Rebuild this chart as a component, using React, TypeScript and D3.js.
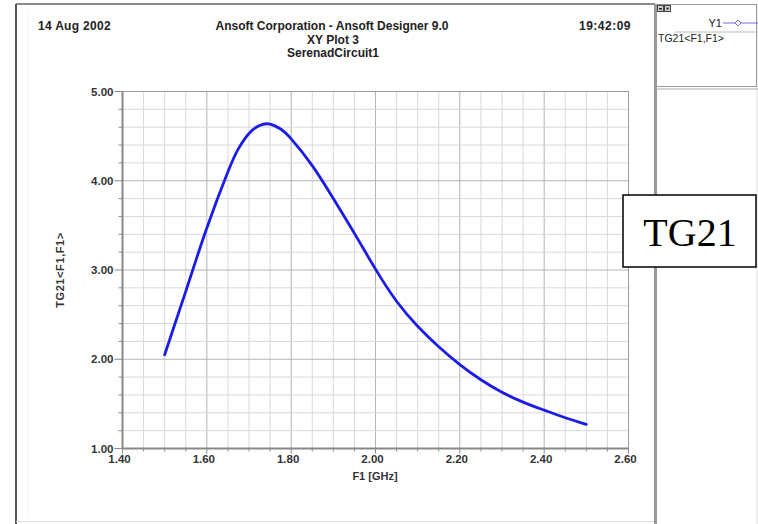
import React from "react";
import * as d3 from "d3";

const freqGHz = [1.5, 1.55, 1.6, 1.65, 1.675, 1.7, 1.725, 1.75, 1.775, 1.8, 1.85, 1.9, 1.95, 2.0, 2.05, 2.1, 2.15, 2.2, 2.25, 2.3, 2.35, 2.4, 2.45, 2.5];
const tg21 = [2.05, 2.76, 3.47, 4.1, 4.36, 4.53, 4.62, 4.635, 4.58, 4.47, 4.17, 3.8, 3.41, 3.01, 2.65, 2.37, 2.14, 1.94, 1.77, 1.63, 1.52, 1.43, 1.345, 1.27];
const xTickValues = [1.4, 1.6, 1.8, 2.0, 2.2, 2.4, 2.6];
const yTickValues = [1.0, 2.0, 3.0, 4.0, 5.0];
const headerLeft = "14 Aug 2002";
const headerTitle = ["Ansoft Corporation - Ansoft Designer 9.0", "XY Plot 3", "SerenadCircuit1"];
const headerRight = "19:42:09";
const xLabel = "F1 [GHz]";
const yLabel = "TG21<F1,F1>";
const legendName = "Y1";
const legendTrace = "TG21<F1,F1>";
const overlayText = "TG21";

export default function App() {
  const W = 758, H = 524;
  const x = d3.scaleLinear().domain([1.4, 2.6]).range([122.5, 628.5]);
  const y = d3.scaleLinear().domain([1, 5]).range([448.5, 91.5]);
  const xMinor = d3.range(0, 25).map((i) => 1.4 + i * 0.05);
  const yMinor = d3.range(0, 21).map((i) => 1 + i * 0.2);
  const pts = freqGHz.map((f, i) => [f, tg21[i]] as [number, number]);
  const line = d3
    .line<[number, number]>()
    .x((d) => x(d[0]))
    .y((d) => y(d[1]))
    .curve(d3.curveNatural);
  const fmt = d3.format(".2f");
  const font = "Arial, 'Liberation Sans', sans-serif";
  const isMajorX = (v: number) => xTickValues.some((t) => Math.abs(t - v) < 1e-6);
  const isMajorY = (v: number) => yTickValues.some((t) => Math.abs(t - v) < 1e-6);
  const [x0, x1] = x.range();
  const [y0, y1] = y.range();

  return (
    <svg width={W} height={H} style={{ position: "absolute", left: 0, top: 0, background: "#fff" }} fontFamily={font}>
      <rect x={0} y={0} width={W} height={H} fill="#fff" />
      {/* main window frame */}
      <line x1={16} y1={4} x2={655} y2={4} stroke="#666" strokeWidth={1.5} />
      <line x1={16} y1={4} x2={16} y2={524} stroke="#555" strokeWidth={2} />
      <line x1={28} y1={10} x2={28} y2={518} stroke="#f2f2f2" strokeWidth={1} />
      <line x1={16} y1={521.5} x2={655} y2={521.5} stroke="#ddd" strokeWidth={1} />
      <line x1={655.5} y1={4} x2={655.5} y2={524} stroke="#999" strokeWidth={3} />
      <line x1={757} y1={4} x2={757} y2={524} stroke="#ddd" strokeWidth={1} />

      {/* header */}
      <g fontWeight="bold" fontSize={12} fill="#222">
        <text x={38} y={30} letterSpacing={0.3}>{headerLeft}</text>
        <text x={332} y={30} textAnchor="middle">{headerTitle[0]}</text>
        <text x={333} y={44} textAnchor="middle">{headerTitle[1]}</text>
        <text x={333} y={57} textAnchor="middle">{headerTitle[2]}</text>
        <text x={631} y={30} textAnchor="end" letterSpacing={0.5}>{headerRight}</text>
      </g>

      {/* grid */}
      {xMinor.map((v, i) => (
        <line key={"gx" + i} x1={x(v)} x2={x(v)} y1={y1} y2={y0} stroke={isMajorX(v) ? "#b4b4b4" : "#d8d8d8"} strokeWidth={1} />
      ))}
      {yMinor.map((v, i) => (
        <line key={"gy" + i} x1={x0} x2={x1} y1={y(v)} y2={y(v)} stroke={isMajorY(v) ? "#b4b4b4" : "#d8d8d8"} strokeWidth={1} />
      ))}
      {/* ticks */}
      {xMinor.map((v, i) => (
        <line key={"tx" + i} x1={x(v)} x2={x(v)} y1={y0} y2={y0 + (isMajorX(v) ? 5 : 3)} stroke="#888" strokeWidth={1} />
      ))}
      {yMinor.map((v, i) => (
        <line key={"ty" + i} x1={x0 - (isMajorY(v) ? 8 : 4)} x2={x0} y1={y(v)} y2={y(v)} stroke="#888" strokeWidth={1} />
      ))}
      {/* plot border */}
      <rect x={x0} y={y1} width={x1 - x0} height={y0 - y1} fill="none" stroke="#999" strokeWidth={1} />
      <line x1={x0} x2={x0} y1={y1} y2={y0} stroke="#888" strokeWidth={2} />
      <line x1={x0} x2={x1} y1={y0} y2={y0} stroke="#888" strokeWidth={2} />

      {/* tick labels */}
      <g fontWeight="bold" fontSize={11.5} fill="#333">
        {yTickValues.map((v) => (
          <text key={"yl" + v} x={x0 - 9} y={y(v) + 4} textAnchor="end">{fmt(v)}</text>
        ))}
        {xTickValues.map((v) => (
          <text key={"xl" + v} x={x(v) - 3} y={463} textAnchor="middle">{fmt(v)}</text>
        ))}
        <text x={375} y={480} textAnchor="middle" fontSize={11}>{xLabel}</text>
        <text transform={`translate(64,270) rotate(-90)`} textAnchor="middle" fontSize={11} letterSpacing={0.6}>{yLabel}</text>
      </g>

      {/* curve */}
      <path d={line(pts) || ""} fill="none" stroke="#1c1ce8" strokeWidth={2.8} strokeLinecap="round" strokeLinejoin="round" />

      {/* legend panel */}
      <rect x={656.5} y={4.5} width={100} height={82} fill="#fff" stroke="#999" strokeWidth={1} />
      <line x1={656} x2={758} y1={89} y2={89} stroke="#aaa" strokeWidth={1} />
      <rect x={657.5} y={5.5} width={6} height={6} fill="#ccc" stroke="#444" strokeWidth={1} />
      <rect x={659} y={8} width={3} height={1.5} fill="#222" />
      <rect x={664.5} y={5.5} width={6} height={6} fill="#ccc" stroke="#444" strokeWidth={1} />
      <path d="M665.8,7.8 L669.2,7.8 L667.5,10 Z" fill="#222" />
      <text x={722} y={27} textAnchor="end" fontSize={11} fill="#222">{legendName}</text>
      <line x1={723} x2={758} y1={23} y2={23} stroke="#7a6ad8" strokeWidth={1} />
      <path d="M738,20 L741,23 L738,26 L735,23 Z" fill="#fff" stroke="#7a6ad8" strokeWidth={1} />
      <line x1={675} x2={758} y1={32} y2={32} stroke="#bbb" strokeWidth={1} />
      <text x={658} y={42} fontSize={10.5} fill="#222">{legendTrace}</text>

      {/* overlay label box */}
      <rect x={623} y={195} width={133} height={72} fill="#fff" stroke="#000" strokeWidth={1.5} />
      <text x={690} y={246} textAnchor="middle" fontFamily="'Liberation Serif', 'Times New Roman', serif" fontSize={40} fill="#000">{overlayText}</text>
    </svg>
  );
}
